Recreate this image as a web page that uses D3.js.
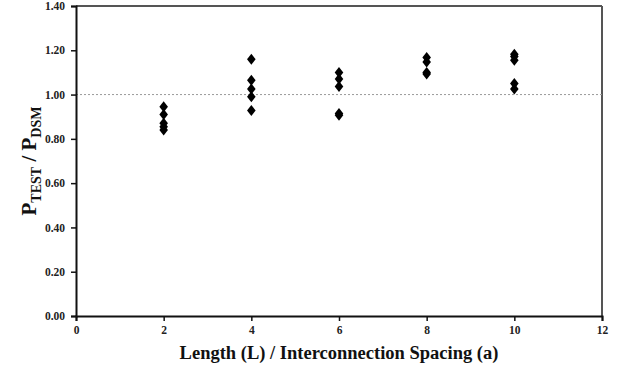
<!DOCTYPE html>
<html>
<head>
<meta charset="utf-8">
<script src="https://cdn.jsdelivr.net/npm/d3@7"></script>
<style>
  body { margin: 0; background: #fff; }
  svg { display: block; }
  .tick text { font-family: "Liberation Serif", "Times New Roman", serif; font-weight: bold; font-size: 11.5px; fill: #222; }
</style>
</head>
<body>
<script>
// x = L / a, each group has several tests
const xGroups = [2, 4, 6, 8, 10];
const ratios = [
  [0.945, 0.91, 0.87, 0.855, 0.84],
  [1.16, 1.065, 1.025, 0.99, 0.928],
  [1.10, 1.07, 1.037, 0.915, 0.907],
  [1.167, 1.147, 1.10, 1.093],
  [1.182, 1.172, 1.155, 1.05, 1.025]
];
const xTicks = [0, 2, 4, 6, 8, 10, 12];
const yTicks = [0, 0.2, 0.4, 0.6, 0.8, 1.0, 1.2, 1.4];

const svgWidth = 621, svgHeight = 370;
const margin = { top: 6, right: 19, bottom: 54, left: 76 };
const width = svgWidth - margin.left - margin.right;
const height = svgHeight - margin.top - margin.bottom;

const svg = d3.select("body").append("svg")
  .attr("width", svgWidth)
  .attr("height", svgHeight);

const g = svg.append("g")
  .attr("transform", `translate(${margin.left},${margin.top})`);

const x = d3.scaleLinear().domain([0, 12]).range([0, width]);
const y = d3.scaleLinear().domain([0, 1.4]).range([height, 0]);

// top and right frame
g.append("line")
  .attr("x1", 0).attr("x2", width).attr("y1", 0).attr("y2", 0)
  .attr("stroke", "#555").attr("stroke-width", 2);
g.append("line")
  .attr("x1", width).attr("x2", width).attr("y1", 0).attr("y2", height)
  .attr("stroke", "#555").attr("stroke-width", 2);

// reference line at 1.0
g.append("line")
  .attr("x1", 0).attr("x2", width)
  .attr("y1", y(1)).attr("y2", y(1))
  .attr("stroke", "#999").attr("stroke-width", 1)
  .attr("stroke-dasharray", "2,2");

// axes
g.append("g")
  .attr("transform", `translate(0,${height})`)
  .call(d3.axisBottom(x).tickValues(xTicks).tickFormat(d3.format("d")).tickSize(5).tickPadding(5))
  .call(a => a.select(".domain").attr("stroke", "#111").attr("stroke-width", 2));

g.append("g")
  .call(d3.axisLeft(y).tickValues(yTicks).tickFormat(d3.format(".2f")).tickSize(5).tickPadding(6))
  .call(a => a.select(".domain").attr("stroke", "#111").attr("stroke-width", 2));

g.selectAll(".tick line").attr("stroke", "#111").attr("stroke-width", 1.5);

// points
const pts = [];
xGroups.forEach((xv, i) => ratios[i].forEach(v => pts.push({ x: xv, y: v })));

const diamond = "M0,-5.5L4.3,0L0,5.5L-4.3,0Z";
g.selectAll("path.pt")
  .data(pts)
  .enter().append("path")
  .attr("class", "pt")
  .attr("d", diamond)
  .attr("transform", d => `translate(${x(d.x)},${y(d.y)})`)
  .attr("fill", "#000");

// axis titles
svg.append("text")
  .attr("x", margin.left + width / 2)
  .attr("y", 359)
  .attr("text-anchor", "middle")
  .attr("font-family", "Liberation Serif, Times New Roman, serif")
  .attr("font-weight", "bold")
  .attr("font-size", 18.5)
  .attr("fill", "#111")
  .text("Length (L) / Interconnection Spacing (a)");

const yl = svg.append("text")
  .attr("transform", `translate(36,${margin.top + y(0.7)}) rotate(-90)`)
  .attr("text-anchor", "middle")
  .attr("font-family", "Liberation Serif, Times New Roman, serif")
  .attr("font-weight", "bold")
  .attr("font-size", 21)
  .attr("fill", "#111");
yl.append("tspan").text("P");
yl.append("tspan").attr("font-size", 14).attr("dy", 5).text("TEST");
yl.append("tspan").attr("dy", -5).text(" / P");
yl.append("tspan").attr("font-size", 14).attr("dy", 5).text("DSM");
</script>
</body>
</html>
